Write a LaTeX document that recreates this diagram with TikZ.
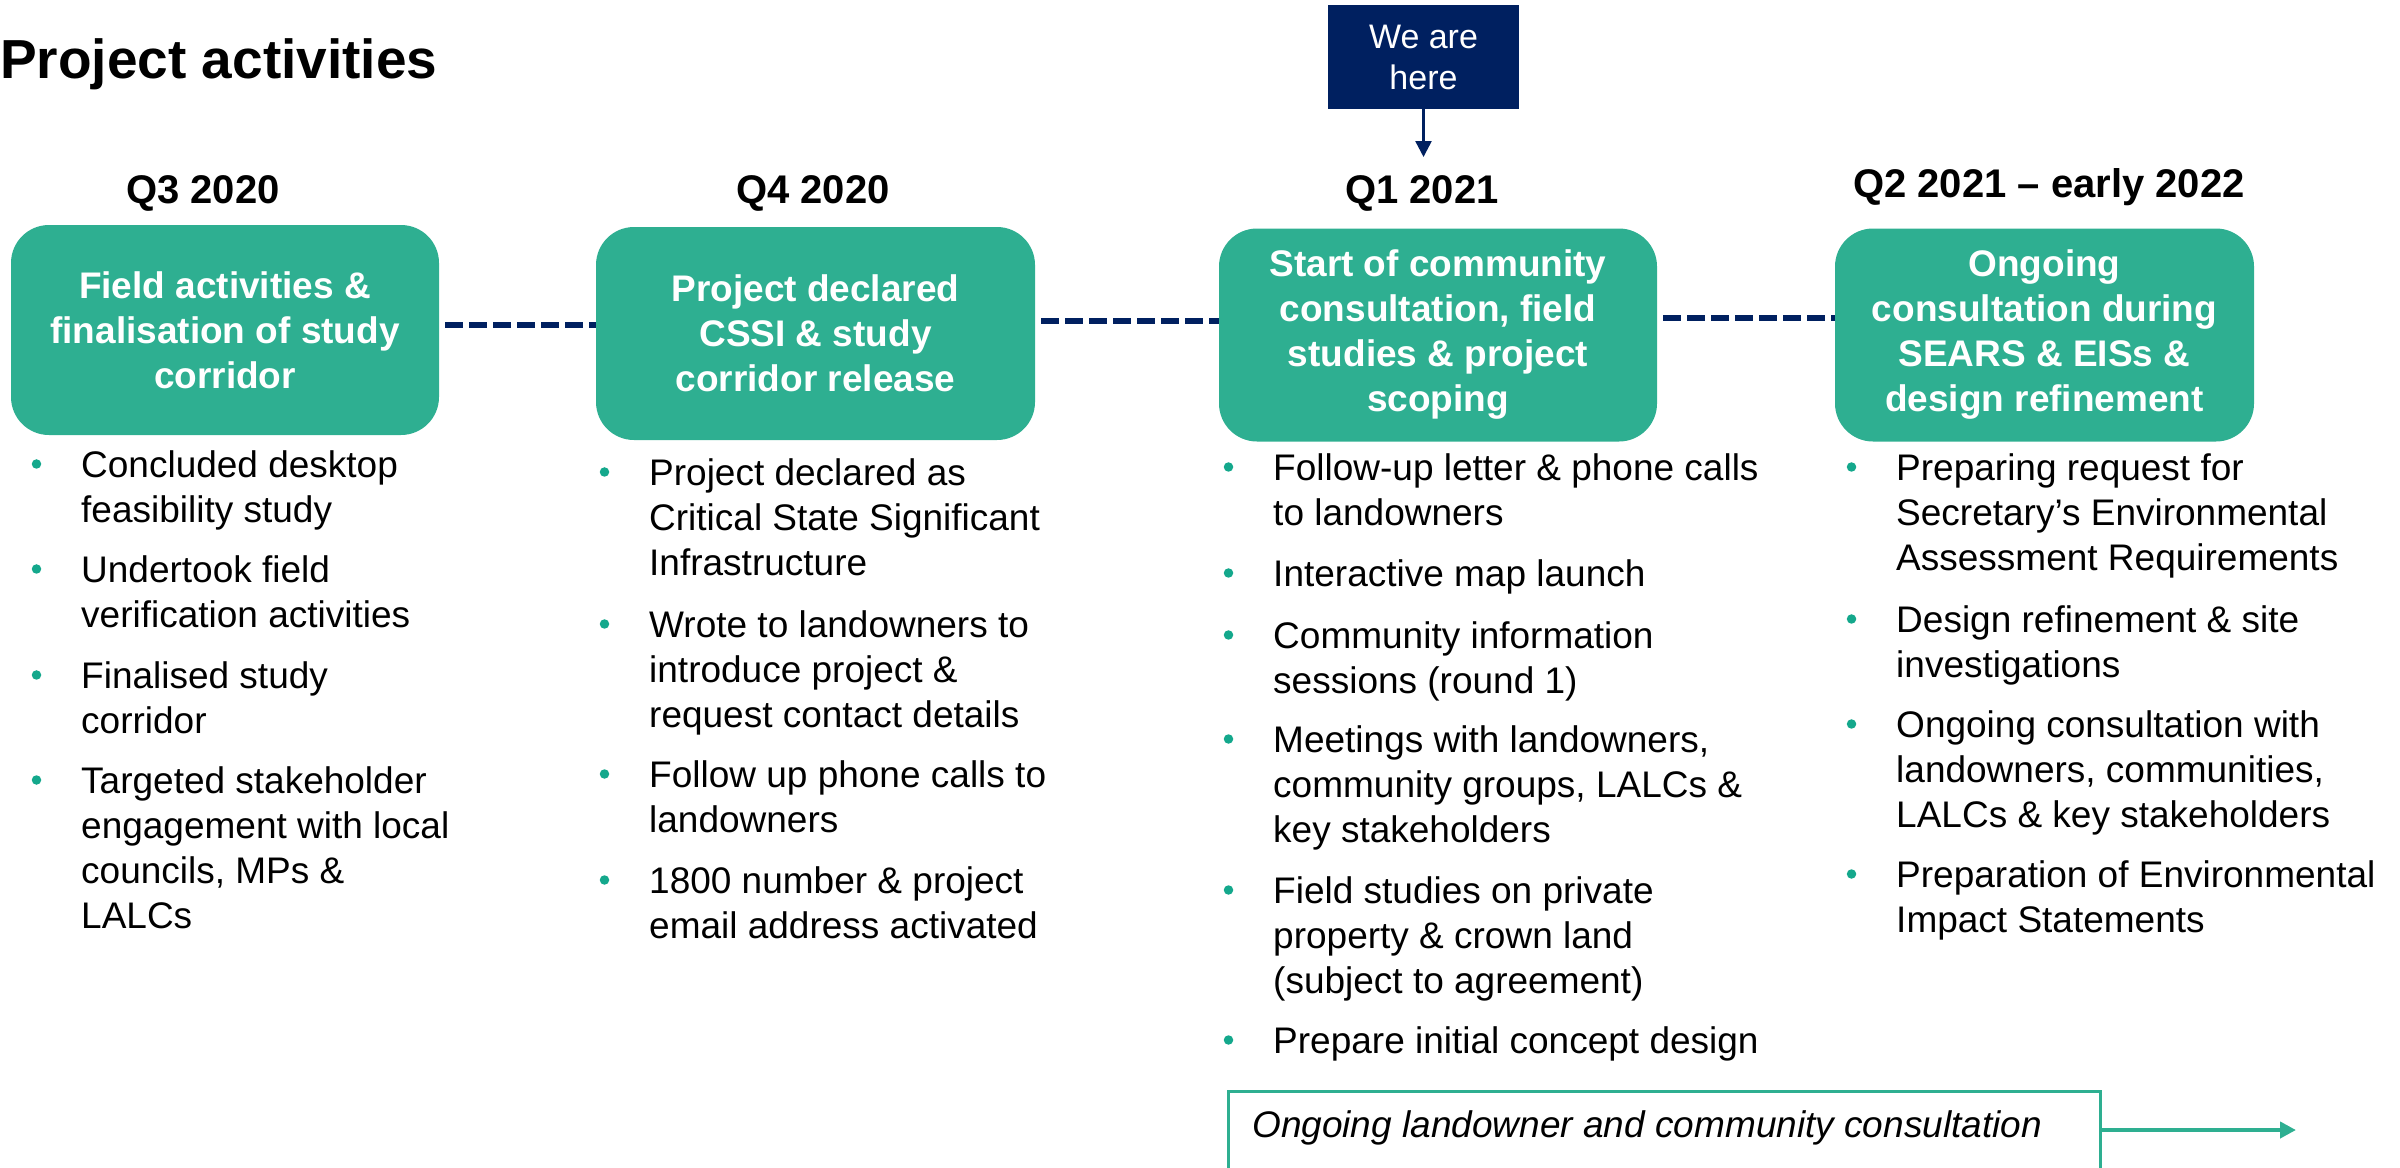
\documentclass[tikz,border=0pt]{standalone}
\usepackage{fontspec}
\setmainfont{Liberation Sans}
\usetikzlibrary{arrows.meta}
\definecolor{phasegreen}{RGB}{46,175,145}
\definecolor{navyblue}{RGB}{0,32,96}
\definecolor{bulletgreen}{RGB}{20,168,140}
\begin{document}
\begin{tikzpicture}[x=1pt,y=-1pt,
  phase/.style={fill=phasegreen, rounded corners=38pt, text=white,
    font=\fontsize{37}{45}\selectfont\bfseries, align=center, inner sep=0pt},
  quarter/.style={anchor=base, font=\fontsize{40}{48}\selectfont\bfseries, inner sep=0pt},
  item/.style={anchor=base west, align=left, inner sep=0pt, font=\fontsize{37}{45}\selectfont},
  dot/.style={circle, fill=bulletgreen, inner sep=0pt, minimum size=9.5pt},
  timeline/.style={navyblue, line width=6pt, dash pattern=on 18pt off 6pt},
]
\useasboundingbox (0,0) rectangle (2400,1167);

% title
\node[anchor=base west, inner sep=0pt, font=\fontsize{55}{66}\selectfont\bfseries] (title) at (0,78) {Project activities};

% we are here
\node[fill=navyblue, text=white, minimum width=191pt, minimum height=104pt, inner sep=0pt,
  align=center, font=\fontsize{34}{41}\selectfont] (here) at (1423.5,57) {We are\\here};
\coordinate (herept) at (1423.5,157);
\draw[navyblue, line width=2.5pt, -{Triangle[length=16pt,width=16pt]}] (here.south) -- (herept);

% quarter labels
\node[quarter] (q1) at (203,203) {Q3 2020};
\node[quarter] (q2) at (813,203) {Q4 2020};
\node[quarter] (q3) at (1422,203) {Q1 2021};
\node[quarter] (q4) at (2049,197) {Q2 2021 – early 2022};

% phase boxes
\node[phase, minimum width=428pt, minimum height=210pt] (p1) at (225,330)
  {Field activities \&\\finalisation of study\\corridor};
\node[phase, minimum width=439pt, minimum height=213pt] (p2) at (815.5,333.5)
  {Project declared\\CSSI \& study\\corridor release};
\node[phase, minimum width=438pt, minimum height=213pt] (p3) at (1438,335)
  {Start of community\\consultation, field\\studies \& project\\scoping};
\node[phase, minimum width=419pt, minimum height=213pt] (p4) at (2044.5,335)
  {Ongoing\\consultation during\\SEARS \& EISs \&\\design refinement};

% dashed timeline
\coordinate (ya) at (0,325);
\coordinate (yb) at (0,321);
\coordinate (yc) at (0,318);
\draw[timeline, shorten <=6pt] (p1.east |- ya) -- (p2.west |- ya);
\draw[timeline, shorten <=6pt] (p2.east |- yb) -- (p3.west |- yb);
\draw[timeline, shorten <=6pt] (p3.east |- yc) -- (p4.west |- yc);

% items: positions are the baselines of their last lines
% column 1
\node[item] (c1a) at (81,522) {Concluded desktop\\feasibility study};
\node[item] (c1b) at (81,627) {Undertook field\\verification activities};
\node[item] (c1c) at (81,733) {Finalised study\\corridor};
\node[item] (c1d) at (81,928) {Targeted stakeholder\\engagement with local\\councils, MPs \&\\LALCs};
% column 2
\node[item] (c2a) at (649,575) {Project declared as\\Critical State Significant\\Infrastructure};
\node[item] (c2b) at (649,727) {Wrote to landowners to\\introduce project \&\\request contact details};
\node[item] (c2c) at (649,832) {Follow up phone calls to\\landowners};
\node[item] (c2d) at (649,938) {1800 number \& project\\email address activated};
% column 3
\node[item] (c3a) at (1273,525) {Follow-up letter \& phone calls\\to landowners};
\node[item] (c3b) at (1273,586) {Interactive map launch};
\node[item] (c3c) at (1273,693) {Community information\\sessions (round 1)};
\node[item] (c3d) at (1273,842) {Meetings with landowners,\\community groups, LALCs \&\\key stakeholders};
\node[item] (c3e) at (1273,993) {Field studies on private\\property \& crown land\\(subject to agreement)};
\node[item] (c3f) at (1273,1053) {Prepare initial concept design};
% column 4
\node[item] (c4a) at (1896,570) {Preparing request for\\Secretary’s Environmental\\Assessment Requirements};
\node[item] (c4b) at (1896,677) {Design refinement \& site\\investigations};
\node[item] (c4c) at (1896,827) {Ongoing consultation with\\landowners, communities,\\LALCs \& key stakeholders};
\node[item] (c4d) at (1896,932) {Preparation of Environmental\\Impact Statements};

% bullets, level with the first line of each item
\foreach \n in {c1a,c1b,c1c,c1d,c2a,c2b,c2c,c2d,c3a,c3b,c3c,c3d,c3e,c3f,c4a,c4b,c4c,c4d}
  \node[dot] (dot-\n) at ([shift={(-44.5,14)}]\n.north west) {};

% ongoing consultation box
\node[draw=phasegreen, line width=3pt, minimum width=872pt, minimum height=78pt, inner sep=0pt] (ong) at (1664,1130) {};
\node[anchor=base west, inner sep=0pt, font=\fontsize{37}{45}\selectfont\itshape] (ongtext) at (1252,1137)
  {Ongoing landowner and community consultation};
\coordinate (ongend) at (2296,1130);
\draw[phasegreen, line width=4pt, -{Triangle[length=16pt,width=16pt]}] (ong.east) -- (ongend);
\end{tikzpicture}
\end{document}
